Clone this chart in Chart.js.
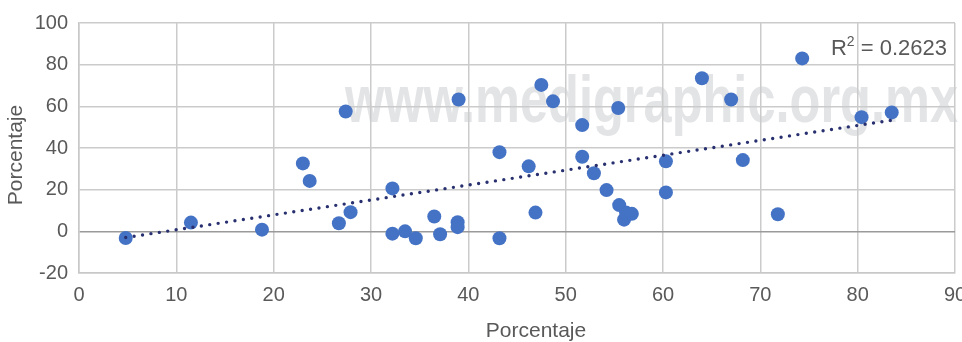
<!DOCTYPE html>
<html>
<head>
<meta charset="utf-8">
<script src="https://cdn.jsdelivr.net/npm/chart.js@4"></script>
<style>
  html, body { margin: 0; padding: 0; background: #fff; overflow: hidden; }
  #wrap { width: 962px; height: 342px; }
</style>
</head>
<body>
<div id="wrap"><canvas id="chart"></canvas></div>
<script>
// Values (x = Porcentaje, y = Porcentaje)
const xValues = [4.8, 11.5, 18.8, 23.0, 23.7, 26.7, 27.4, 27.9, 32.2, 32.2,
                 33.5, 34.6, 36.5, 37.1, 38.9, 38.9, 39.0, 43.2, 43.2, 46.2,
                 46.9, 47.5, 48.7, 51.7, 51.7, 52.9, 54.2, 55.5, 55.4, 56.0,
                 56.2, 56.8, 60.3, 60.3, 64.0, 67.0, 68.2, 71.8, 74.3, 80.4, 83.5];
const yValues = [-3.2, 4.2, 0.8, 32.6, 24.2, 3.9, 57.5, 9.2, 20.6, -1.1,
                 0.0, -3.3, 7.1, -1.4, 4.4, 2.0, 63.3, 38.0, -3.3, 31.2,
                 9.0, 70.3, 62.4, 51.0, 35.8, 27.9, 19.8, 12.6, 59.2, 5.6,
                 9.0, 8.4, 33.6, 18.7, 73.5, 63.3, 34.2, 8.2, 83.0, 54.8, 57.1];
const xTicks = [0, 10, 20, 30, 40, 50, 60, 70, 80, 90];
const yTicks = [-20, 0, 20, 40, 60, 80, 100];
const rSquared = '0.2623';
const axisLabel = 'Porcentaje';
const watermark = 'www.medigraphic.org.mx';

const FONT = '"Liberation Sans", Arial, sans-serif';
const TEXT = '#595959';

// linear trend (least squares) over the scatter
function trend(xs, ys) {
  const n = xs.length;
  const mx = xs.reduce((a, b) => a + b, 0) / n;
  const my = ys.reduce((a, b) => a + b, 0) / n;
  let sxy = 0, sxx = 0;
  for (let i = 0; i < n; i++) {
    sxy += (xs[i] - mx) * (ys[i] - my);
    sxx += (xs[i] - mx) * (xs[i] - mx);
  }
  const b = sxy / sxx;
  const a = my - b * mx;
  const x0 = Math.min(...xs), x1 = Math.max(...xs);
  return [{x: x0, y: a + b * x0}, {x: x1, y: a + b * x1}];
}

const points = xValues.map((x, i) => ({x: x, y: yValues[i]}));

// watermark behind the grid
const watermarkPlugin = {
  id: 'watermark',
  beforeDraw(chart) {
    const ctx = chart.ctx;
    ctx.save();
    ctx.font = 'bold 67px "Liberation Sans", Arial, sans-serif';
    ctx.fillStyle = '#e3e4e6';
    ctx.textBaseline = 'alphabetic';
    const w = ctx.measureText(watermark).width;
    ctx.translate(345, 122);
    ctx.scale(613 / w, 1);
    ctx.fillText(watermark, 0, 0);
    ctx.restore();
  }
};

// R² label and the two axis titles
const labelsPlugin = {
  id: 'labels',
  afterDraw(chart) {
    const ctx = chart.ctx;
    const area = chart.chartArea;
    ctx.save();
    ctx.fillStyle = TEXT;
    ctx.textBaseline = 'alphabetic';
    // R² = ...
    ctx.font = '22px ' + FONT;
    const rest = ' = ' + rSquared;
    const wRest = ctx.measureText(rest).width;
    const wR = ctx.measureText('R').width;
    ctx.font = '14px ' + FONT;
    const wSup = ctx.measureText('2').width;
    const x = area.right - 8 - wRest - wSup - wR;
    const base = 55;
    ctx.textAlign = 'left';
    ctx.font = '22px ' + FONT;
    ctx.fillText('R', x, base);
    ctx.font = '14px ' + FONT;
    ctx.fillText('2', x + wR, base - 9);
    ctx.font = '22px ' + FONT;
    ctx.fillText(rest, x + wR + wSup, base);
    // x axis title
    ctx.font = '21px ' + FONT;
    ctx.textAlign = 'center';
    ctx.fillText(axisLabel, (area.left + area.right) / 2 + 19, 337);
    // y axis title
    ctx.translate(16, (area.top + area.bottom) / 2 + 7);
    ctx.rotate(-Math.PI / 2);
    ctx.textBaseline = 'middle';
    ctx.fillText(axisLabel, 0, 0);
    ctx.restore();
  }
};

new Chart(document.getElementById('chart'), {
  type: 'scatter',
  data: {
    datasets: [{
      label: 'Datos',
      data: points,
      backgroundColor: '#4472c4',
      borderWidth: 0,
      pointRadius: 7,
      pointHoverRadius: 7,
      order: 2
    }, {
      type: 'line',
      label: 'Tendencia',
      data: trend(xValues, yValues),
      borderColor: '#283070',
      borderWidth: 3.4,
      borderDash: [0, 8.5],
      borderCapStyle: 'round',
      pointRadius: 0,
      fill: false,
      order: 1
    }]
  },
  options: {
    responsive: true,
    maintainAspectRatio: false,
    animation: false,
    layout: { padding: { top: 19, right: 7, bottom: 34, left: 0 } },
    plugins: {
      legend: { display: false },
      tooltip: { enabled: false }
    },
    scales: {
      x: {
        type: 'linear',
        min: xTicks[0],
        max: xTicks[xTicks.length - 1],
        afterBuildTicks: s => { s.ticks = xTicks.map(v => ({value: v})); },
        afterFit: s => { s.paddingRight = 0; s.height = 35; },
        border: { display: true, color: '#c8c8c8', width: 1.5 },
        grid: { color: '#cbcbcb', lineWidth: 1.5, drawTicks: false },
        ticks: { color: TEXT, font: { family: FONT, size: 20 }, padding: 10, maxRotation: 0 }
      },
      y: {
        type: 'linear',
        min: yTicks[0],
        max: yTicks[yTicks.length - 1],
        afterBuildTicks: s => { s.ticks = yTicks.map(v => ({value: v})); },
        afterFit: s => { s.width = 79; },
        border: { display: true, color: '#c8c8c8', width: 1.5 },
        grid: {
          color: ctx => ctx.tick && ctx.tick.value === 0 ? '#9a9a9a' : '#cbcbcb',
          lineWidth: 1.5,
          drawTicks: false
        },
        ticks: { color: TEXT, font: { family: FONT, size: 20 }, padding: 11 }
      }
    }
  },
  plugins: [watermarkPlugin, labelsPlugin]
});
</script>
</body>
</html>
